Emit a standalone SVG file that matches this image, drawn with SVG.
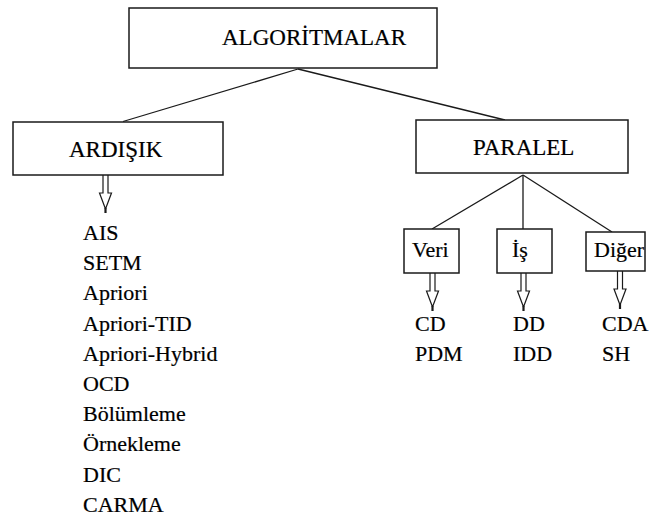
<svg xmlns="http://www.w3.org/2000/svg" width="653" height="518" viewBox="0 0 653 518" font-family="Liberation Serif, Times New Roman, serif">
  <defs>
    <style>
      .box { fill: #ffffff; stroke: #1a1a1a; stroke-width: 1.5; }
      .link { fill: none; stroke: #1a1a1a; stroke-width: 1.3; }
      .arrow { fill: #ffffff; stroke: #1a1a1a; stroke-width: 1.2; stroke-linejoin: miter; }
      .tip { stroke: #1a1a1a; stroke-width: 2.2; }
      text { fill: #000000; stroke: #000000; stroke-width: 0.2; }
      .h { font-size: 23px; }
      .s { font-size: 22px; }
    </style>
    <!-- hollow down arrow, origin at top centre of the shaft -->
    <g id="downArrow">
      <path class="arrow" d="M-2.5,0 V18 H-6 L0,34 L6,18 H2.5 V0"/>
      <line class="tip" x1="0" y1="33" x2="0" y2="38"/>
    </g>
  </defs>

  <rect width="653" height="518" fill="#ffffff"/>

  <!-- connectors -->
  <g id="connectors">
    <line class="link" x1="298" y1="69" x2="123" y2="121.5"/>
    <line class="link" x1="298" y1="69" x2="505" y2="120"/>
    <line class="link" x1="523" y1="175" x2="432" y2="229"/>
    <line class="link" x1="523" y1="175" x2="523" y2="229"/>
    <line class="link" x1="523" y1="175" x2="612" y2="232"/>
    <use href="#downArrow" x="105.5" y="175"/>
    <use href="#downArrow" x="432.5" y="273"/>
    <use href="#downArrow" x="523.5" y="273"/>
    <use href="#downArrow" x="620" y="271"/>
  </g>

  <g id="algoritmalar">
    <rect class="box" x="129" y="8" width="308" height="60"/>
    <text class="h" x="222" y="45" font-family="Liberation Serif, serif">ALGORİTMALAR</text>
  </g>

  <g id="ardisik">
    <rect class="box" x="13" y="122" width="210" height="53"/>
    <text class="h" x="69" y="157" font-family="Liberation Serif, serif">ARDIŞIK</text>
  </g>

  <g id="paralel">
    <rect class="box" x="416" y="120" width="212" height="53"/>
    <text class="h" x="473" y="155" font-family="Liberation Serif, serif">PARALEL</text>
  </g>

  <g id="veri">
    <rect class="box" x="404" y="229" width="55" height="44"/>
    <text class="s" x="412" y="257" font-family="Liberation Serif, serif">Veri</text>
  </g>

  <g id="is">
    <rect class="box" x="497" y="229" width="55" height="44"/>
    <text class="s" x="512" y="257" font-family="Liberation Serif, serif">İş</text>
  </g>

  <g id="diger">
    <rect class="box" x="586" y="232" width="59" height="39"/>
    <text class="s" x="594" y="257" font-family="Liberation Serif, serif">Diğer</text>
  </g>

  <!-- sequential algorithm list -->
  <g id="ardisik-list" font-family="Liberation Serif, serif">
    <text class="s" x="83" y="240">AIS</text>
    <text class="s" x="83" y="270.2">SETM</text>
    <text class="s" x="83" y="300.4">Apriori</text>
    <text class="s" x="83" y="330.6">Apriori-TID</text>
    <text class="s" x="83" y="360.8">Apriori-Hybrid</text>
    <text class="s" x="83" y="391">OCD</text>
    <text class="s" x="83" y="421.2">Bölümleme</text>
    <text class="s" x="83" y="451.4">Örnekleme</text>
    <text class="s" x="83" y="481.6">DIC</text>
    <text class="s" x="83" y="511.8">CARMA</text>
  </g>

  <g id="veri-list" font-family="Liberation Serif, serif">
    <text class="s" x="415" y="331">CD</text>
    <text class="s" x="415" y="361">PDM</text>
  </g>

  <g id="is-list" font-family="Liberation Serif, serif">
    <text class="s" x="513" y="331">DD</text>
    <text class="s" x="513" y="361">IDD</text>
  </g>

  <g id="diger-list" font-family="Liberation Serif, serif">
    <text class="s" x="602" y="331">CDA</text>
    <text class="s" x="602" y="361">SH</text>
  </g>
</svg>
